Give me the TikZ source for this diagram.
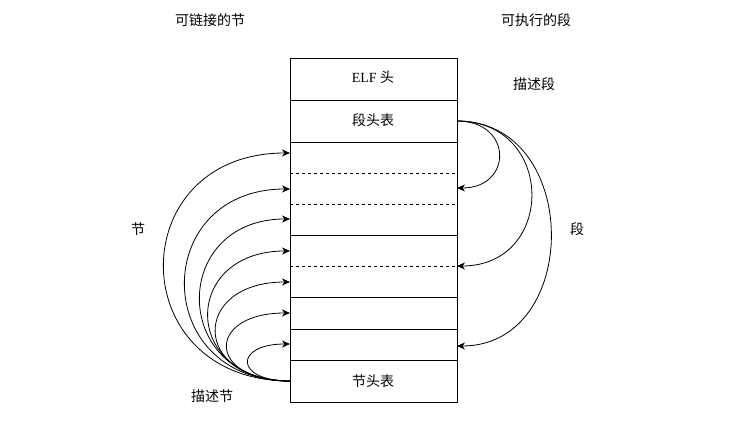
\documentclass[tikz,border=0pt]{standalone}
\usepackage{fontspec}
\setmainfont{Liberation Serif}
\newfontfamily\cjk{Noto Sans CJK SC}
\usetikzlibrary{arrows.meta}
\begin{document}
\begin{tikzpicture}[x=1pt,y=-1pt,
  lbl/.style={font=\fontsize{14}{16}\selectfont\cjk, inner sep=0pt},
  cell/.style={draw, line width=0.8pt},
  sep/.style={line width=0.8pt},
  dsep/.style={line width=0.8pt, dash pattern=on 3pt off 3pt},
  link/.style={line width=0.8pt, -{Stealth[length=8pt,width=7pt,inset=2.5pt]}}]
\useasboundingbox (0,0) rectangle (743,435);
% box
\draw[cell] (290,58) rectangle (457,402);
\draw[sep] (290,100) -- (457,100);
\draw[sep] (290,142) -- (457,142);
\draw[dsep] (290,173) -- (457,173);
\draw[dsep] (290,204) -- (457,204);
\draw[sep] (290,235) -- (457,235);
\draw[dsep] (290,266) -- (457,266);
\draw[sep] (290,297) -- (457,297);
\draw[sep] (290,329) -- (457,329);
\draw[sep] (290,360) -- (457,360);
% labels
\node[font=\fontsize{14}{16}\selectfont, inner sep=0pt] (elf) at (373,77) {ELF {\cjk 头}};
\node[lbl] (pht) at (373,120) {段头表};
\node[lbl] (sht) at (373,381) {节头表};
\node[lbl] (t1) at (210,20) {可链接的节};
\node[lbl] (t2) at (536,20) {可执行的段};
\node[lbl] (t3) at (534,84) {描述段};
\node[lbl] (t4) at (138,229) {节};
\node[lbl] (t5) at (577,229) {段};
\node[lbl] (t6) at (212,396) {描述节};
% anchor coordinates
\coordinate (s) at (290,381);
\coordinate (p) at (457,121);
\coordinate (a1) at (290,153);
\coordinate (a2) at (290,189);
\coordinate (a3) at (290,219);
\coordinate (a4) at (290,251);
\coordinate (a5) at (290,282);
\coordinate (a6) at (290,313);
\coordinate (a7) at (290,344);
\coordinate (b1) at (457,188);
\coordinate (b2) at (457,266);
\coordinate (b3) at (457,346);
% left arrows
\draw[link] (s) .. controls (122,381) and (122,153) .. (a1);
\draw[link] (s) .. controls (150,381) and (150,189) .. (a2);
\draw[link] (s) .. controls (170,381) and (170,219) .. (a3);
\draw[link] (s) .. controls (181,381) and (181,251) .. (a4);
\draw[link] (s) .. controls (191,381) and (191,282) .. (a5);
\draw[link] (s) .. controls (206,381) and (206,313) .. (a6);
\draw[link] (s) .. controls (234,381) and (234,344) .. (a7);
% right arrows
\draw[link] (p) .. controls (513,121) and (513,188) .. (b1);
\draw[link] (p) .. controls (556,121) and (556,266) .. (b2);
\draw[link] (p) .. controls (582,121) and (582,346) .. (b3);
\end{tikzpicture}
\end{document}
